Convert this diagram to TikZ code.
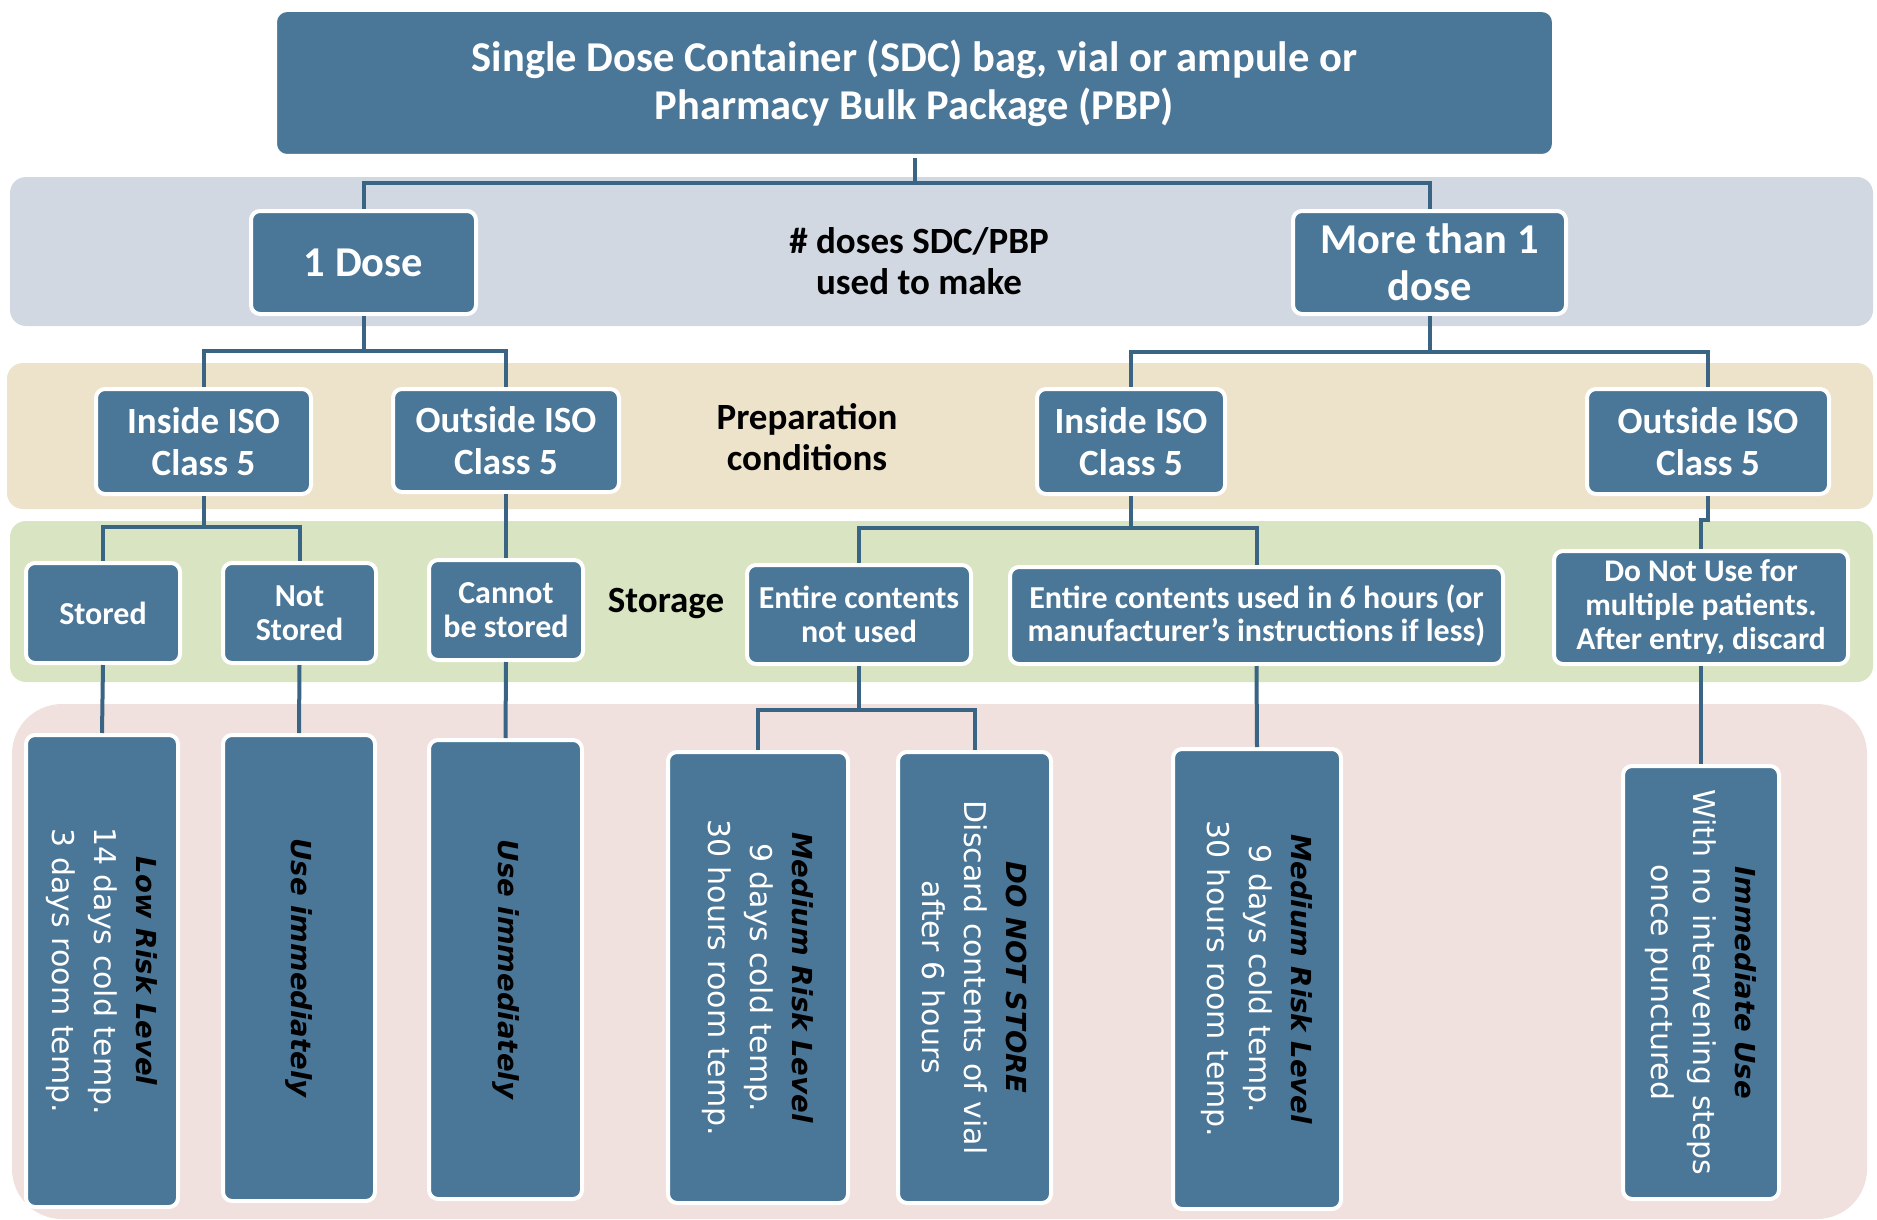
\documentclass[tikz,border=0pt]{standalone}
\usepackage{fontspec}
\setmainfont{Carlito}
\newfontfamily\vfont{DejaVu Sans}
\definecolor{boxblue}{HTML}{4A7698}
\definecolor{linkblue}{HTML}{3A6483}
\definecolor{bandgray}{HTML}{D1D8E1}
\definecolor{bandbeige}{HTML}{EDE2CA}
\definecolor{bandgreen}{HTML}{D8E4C2}
\definecolor{bandpink}{HTML}{F0E0DE}
\newcommand{\vhead}[1]{{\fontsize{27.5}{42}\selectfont\bfseries\itshape\color{black}#1}}
\begin{document}
\begin{tikzpicture}[x=1pt,y=-1pt,
  box/.style={draw=white, line width=4pt, fill=boxblue, rounded corners=9pt, text=white, align=center, inner sep=2pt},
  hbox/.style={box, font=\bfseries\fontsize{37}{42}\selectfont},
  sbox/.style={box, font=\bfseries\fontsize{32}{33.5}\selectfont},
  vbox/.style={box, rotate=-90, font=\vfont\fontsize{30}{42}\selectfont},
  lab/.style={text=black, align=center},
  link/.style={draw=linkblue, line width=4pt}]
\useasboundingbox (0,0) rectangle (1877,1220);
% bands
\fill[bandgray, rounded corners=16pt] (10,177) rectangle (1873,326);
\fill[bandbeige, rounded corners=16pt] (7,363) rectangle (1873,509);
\fill[bandgreen, rounded corners=16pt] (10,521) rectangle (1873,682);
\fill[bandpink, rounded corners=50pt] (12,704) rectangle (1867,1219);
% level 0
\node[box, font=\bfseries\fontsize{42.5}{48}\selectfont, minimum width=1279pt, minimum height=146pt, rounded corners=12pt] (title) at (914.5,83)
  {Single Dose Container (SDC) bag, vial or ampule or\\Pharmacy Bulk Package (PBP)};
% level 1
\node[box, font=\bfseries\fontsize{42.5}{47}\selectfont, minimum width=225pt, minimum height=103pt] (dose1) at (363.5,262.5) {1 Dose};
\node[box, font=\bfseries\fontsize{42.5}{47}\selectfont, minimum width=273pt, minimum height=103pt] (more) at (1429.5,262.5) {More than 1\\dose};
\node[lab, font=\bfseries\fontsize{37}{41}\selectfont] (doses) at (919,261) {\# doses SDC/PBP\\used to make};
% level 2
\node[hbox, minimum width=215pt, minimum height=105pt] (inL) at (203.5,441.5) {Inside ISO\\Class 5};
\node[hbox, minimum width=226pt, minimum height=103pt] (outL) at (506,440.5) {Outside ISO\\Class 5};
\node[lab, font=\bfseries\fontsize{37}{41}\selectfont] (prep) at (807,437) {Preparation\\conditions};
\node[hbox, minimum width=188pt, minimum height=105pt] (inR) at (1131,441.5) {Inside ISO\\Class 5};
\node[hbox, minimum width=242pt, minimum height=105pt] (outR) at (1708,441.5) {Outside ISO\\Class 5};
% level 3
\node[sbox, minimum width=154pt, minimum height=100pt] (stored) at (103,613) {Stored};
\node[sbox, minimum width=153pt, minimum height=100pt] (notst) at (299.5,613) {Not\\Stored};
\node[sbox, minimum width=154pt, minimum height=100pt] (cannot) at (506,610) {Cannot\\be stored};
\node[lab, font=\bfseries\fontsize{37}{40}\selectfont] (storage) at (666,603) {Storage};
\node[sbox, minimum width=224pt, minimum height=99pt] (entnot) at (859,614.5) {Entire contents\\not used};
\node[sbox, minimum width=493pt, minimum height=97pt] (ent6) at (1256.5,615.5) {Entire contents used in 6 hours (or\\manufacturer’s instructions if less)};
\node[sbox, font=\bfseries\fontsize{31.5}{34}\selectfont, minimum width=294pt, minimum height=113pt] (dnu) at (1701,607.5) {Do Not Use for\\multiple patients.\\After entry, discard};
% level 4
\node[vbox, minimum width=472pt, minimum height=152pt] (low) at (102,971)
  {\vhead{Low Risk Level}\\14 days cold temp.\\3 days room temp.};
\node[vbox, minimum width=466pt, minimum height=152pt] (useA) at (299,968)
  {\vhead{Use immediately}};
\node[vbox, minimum width=459pt, minimum height=153pt] (useB) at (505.5,969.5)
  {\vhead{Use immediately}};
\node[vbox, minimum width=451pt, minimum height=180pt] (medA) at (758,977.5)
  {\vhead{Medium Risk Level}\\9 days cold temp.\\30 hours room temp.};
\node[vbox, minimum width=451pt, minimum height=153pt] (dns) at (974.5,977.5)
  {\vhead{DO NOT STORE}\\Discard contents of vial\\after 6 hours};
\node[vbox, minimum width=460pt, minimum height=168pt] (medB) at (1257,979)
  {\vhead{Medium Risk Level}\\9 days cold temp.\\30 hours room temp.};
\node[vbox, minimum width=433pt, minimum height=156pt] (imm) at (1701,982.5)
  {\vhead{Immediate Use}\\With no intervening steps\\once punctured};
% connectors
\draw[link] (title.south) -- (title.south |- 0,183) -| (dose1.north);
\draw[link] (title.south |- 0,183) -| (more.north);
\draw[link] (dose1.south) -- (dose1.south |- 0,351) -| (inL.north);
\draw[link] (dose1.south |- 0,351) -| (outL.north);
\draw[link] (more.south) -- (more.south |- 0,352) -| (inR.north);
\draw[link] (more.south |- 0,352) -| (outR.north);
\draw[link] (inL.south) -- (inL.south |- 0,527) -| (stored.north);
\draw[link] (inL.south |- 0,527) -| (notst.north);
\draw[link] (outL.south) -- (cannot.north);
\draw[link] (inR.south) -- (inR.south |- 0,528) -| (entnot.north);
\draw[link] (inR.south |- 0,528) -| (ent6.north);
\draw[link] (outR.south) -- (outR.south |- 0,520) -| (dnu.north);
\draw[link] (stored.south) -- (low.west);
\draw[link] (notst.south) -- (useA.west);
\draw[link] (cannot.south) -- (useB.west);
\draw[link] (entnot.south) -- (entnot.south |- 0,710) -| (medA.west);
\draw[link] (entnot.south |- 0,710) -| (dns.west);
\draw[link] (ent6.south) -- (medB.west);
\draw[link] (dnu.south) -- (imm.west);
\end{tikzpicture}
\end{document}
